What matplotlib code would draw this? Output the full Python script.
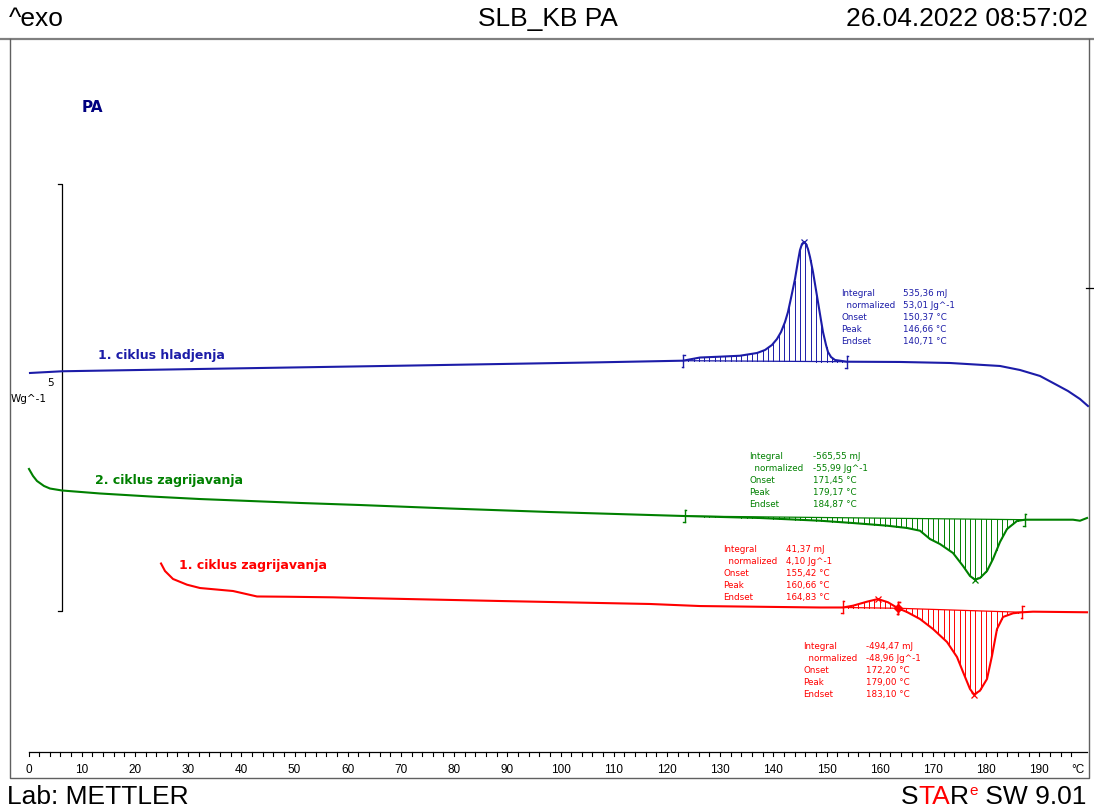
import numpy as np
import matplotlib
matplotlib.use("Agg")
import matplotlib.pyplot as plt
import matplotlib.transforms as mtrans

W, H = 1094, 812

# ---------------- data (temperature in °C, signal in W/g, shifted curves) ----------------
blue_T = [0.28, 6.30, 32.24, 69.83, 107.42, 123.03, 126.22, 129.98, 133.74, 136.94, 138.44,
          139.75, 140.69, 141.45, 142.20, 142.76, 143.33, 144.08, 144.64, 145.02, 145.39,
          145.77, 146.15, 146.52, 146.90, 147.46, 147.84, 148.40, 148.96, 149.34, 149.91,
          150.28, 150.85, 151.60, 153.85, 163.82, 173.21, 182.61, 186.37, 190.13, 192.95,
          195.39, 197.65, 199.15]
blue_Y = [5.129, 5.149, 5.176, 5.214, 5.254, 5.273, 5.310, 5.320, 5.331, 5.363, 5.398,
          5.457, 5.527, 5.609, 5.726, 5.843, 6.007, 6.230, 6.440, 6.569, 6.639,
          6.663, 6.639, 6.581, 6.487, 6.312, 6.171, 5.960, 5.749, 5.609, 5.457,
          5.375, 5.316, 5.281, 5.261, 5.258, 5.246, 5.211, 5.164, 5.094, 5.000,
          4.918, 4.824, 4.742]

green_T = [0.09, 0.85, 1.60, 2.91, 4.04, 6.30, 13.44, 22.84, 32.24, 41.64, 51.03, 62.31,
           79.23, 98.03, 116.82, 123.40, 137.50, 148.78, 154.98, 161.37, 165.13, 167.58,
           169.45, 171.33, 173.78, 175.66, 176.97, 177.91, 178.85, 180.17, 181.30, 182.61,
           183.93, 185.81, 187.31, 196.33, 197.65, 198.97]
green_Y = [4.005, 3.923, 3.864, 3.806, 3.776, 3.753, 3.718, 3.683, 3.653, 3.630, 3.607, 3.583,
           3.542, 3.501, 3.466, 3.454, 3.431, 3.399, 3.372, 3.341, 3.314, 3.282,
           3.185, 3.126, 3.021, 2.869, 2.752, 2.709, 2.728, 2.810, 2.951, 3.150,
           3.302, 3.396, 3.411, 3.411, 3.399, 3.431]

red_T = [24.91, 25.66, 27.16, 29.79, 32.24, 38.44, 42.95, 48.59, 57.24, 62.31, 88.63, 116.82,
         126.22, 148.78, 153.10, 154.98, 157.61, 159.68, 161.56, 163.44, 165.13, 167.58,
         170.02, 172.65, 174.53, 175.66, 176.97, 177.73, 178.85, 180.17, 181.11, 182.05,
         183.18, 185.06, 186.75, 188.82, 198.97]
red_Y = [2.898, 2.810, 2.717, 2.650, 2.611, 2.576, 2.512, 2.509, 2.502, 2.494, 2.459, 2.424,
         2.400, 2.383, 2.383, 2.404, 2.451, 2.482, 2.444, 2.374, 2.330, 2.248,
         2.131, 1.979, 1.803, 1.628, 1.429, 1.364, 1.409, 1.546, 1.818, 2.131,
         2.272, 2.315, 2.327, 2.334, 2.327]

# integration limits (°C) and peak temperatures (plot positions)
blue_limits = [123.03, 153.85]
blue_peak = 145.77
green_limits = [123.40, 187.31]
green_peak = 177.91
red_limits1 = [153.10, 163.44]
red_peak1 = 159.68
red_limits2 = [163.44, 186.75]
red_peak2 = 177.73

x_ticks = list(range(0, 197, 2))
x_labels = list(range(0, 191, 10))

blue_res = [("Integral", "535,36 mJ"), ("  normalized", "53,01 Jg^-1"), ("Onset", "150,37 °C"),
            ("Peak", "146,66 °C"), ("Endset", "140,71 °C")]
green_res = [("Integral", "-565,55 mJ"), ("  normalized", "-55,99 Jg^-1"), ("Onset", "171,45 °C"),
             ("Peak", "179,17 °C"), ("Endset", "184,87 °C")]
red_res1 = [("Integral", "41,37 mJ"), ("  normalized", "4,10 Jg^-1"), ("Onset", "155,42 °C"),
            ("Peak", "160,66 °C"), ("Endset", "164,83 °C")]
red_res2 = [("Integral", "-494,47 mJ"), ("  normalized", "-48,96 Jg^-1"), ("Onset", "172,20 °C"),
            ("Peak", "179,00 °C"), ("Endset", "183,10 °C")]

BLUE = "#1c1ca8"
GREEN = "#008000"
RED = "#ff0000"

# ---------------- figure ----------------
fig = plt.figure(figsize=(W / 100, H / 100), dpi=100)
ov = fig.add_axes([0, 0, 1, 1])
ov.set_xlim(0, W)
ov.set_ylim(H, 0)
ov.axis("off")

ax = fig.add_axes([0, 0, 1, 1])
ax.patch.set_alpha(0)
PX_PER_C = 5.32
X0 = 28.5
PX_PER_Y = 85.4
ax.set_xlim(-X0 / PX_PER_C, (W - X0) / PX_PER_C)
ax.set_ylim(0, H / PX_PER_Y)
ax.axis("off")

# frame
ov.plot([0, W], [40, 40], color="#808080", lw=1.6)
ov.plot([10, 10, 1089, 1089], [40, 779, 779, 40], color="#606060", lw=1.0)
ov.plot([1086, 1093], [289, 289], color="black", lw=0.9)

HS = 19
hdr = dict(family="Liberation Sans", fontsize=HS, va="center")
ov.text(9, 19, "^exo", ha="left", **hdr)
ov.text(548, 19, "SLB_KB PA", ha="center", **hdr)
ov.text(1088, 19, "26.04.2022 08:57:02", ha="right", **hdr)
ov.text(7, 797, "Lab: METTLER", ha="left", **hdr)
# STARe SW 9.01
t_sw = ov.text(1086, 797, " SW 9.01", ha="right", **hdr)
fig.canvas.draw()
r = fig.canvas.get_renderer()
xr = t_sw.get_window_extent(r).x0
blend = mtrans.blended_transform_factory(mtrans.IdentityTransform(), ov.transData)

def add_left(s, color, size=HS, dy=0):
    global xr
    t = ov.text(xr, 797 + dy, s, ha="right", va="center", family="Liberation Sans",
                fontsize=size, color=color, transform=blend)
    xr = t.get_window_extent(r).x0

add_left("e", RED, size=11, dy=-6)
add_left("R", "black")
add_left("TA", RED)
add_left("S", "black")

ov.text(82, 108, "PA", color="#000080", fontsize=11, fontweight="bold", va="center", ha="left",
        family="DejaVu Sans")

# y scale bar
ov.plot([58, 62, 62, 58], [185, 185, 612, 612], color="black", lw=0.9)
ov.text(47, 383, "5", fontsize=7.5, va="center", ha="left", family="DejaVu Sans")
ov.text(11, 399, "Wg^-1", fontsize=7.5, va="center", ha="left", family="DejaVu Sans")

# x axis
y_ax = (H - 753) / PX_PER_Y
tick_len = 4 / PX_PER_Y
ax.plot([0, (1087 - X0) / PX_PER_C], [y_ax, y_ax], color="black", lw=0.9)
for t in x_ticks:
    ax.plot([t, t], [y_ax, y_ax - tick_len], color="black", lw=0.8)
for t in x_labels:
    ax.text(t, (H - 770) / PX_PER_Y, str(t), ha="center", va="center", fontsize=8.5,
            family="Liberation Sans")
ov.text(1078, 770, "°C", ha="center", va="center", fontsize=8.5, family="Liberation Sans")

# curves
def integrate(T, Y, lims, color, peak=None, marks=True):
    T = np.asarray(T); Y = np.asarray(Y)
    a, b = lims
    ya, yb = np.interp(a, T, Y), np.interp(b, T, Y)
    xs = np.arange(np.ceil(a), b, 1.0)
    base = ya + (yb - ya) * (xs - a) / (b - a)
    cur = np.interp(xs, T, Y)
    for x0, b0, c0 in zip(xs, base, cur):
        ax.plot([x0, x0], [b0, c0], color=color, lw=0.7)
    ax.plot([a, b], [ya, yb], color=color, lw=0.9)
    if marks:
        h = 6 / PX_PER_Y
        s = 1.5 / PX_PER_C
        for xm, ym in ((a, ya), (b, yb)):
            ax.plot([xm, xm], [ym - h, ym + h], color=color, lw=1.0)
            ax.plot([xm, xm + s], [ym + h, ym + h], color=color, lw=1.0)
            ax.plot([xm, xm - s], [ym - h, ym - h], color=color, lw=1.0)
    if peak is not None:
        ax.plot([peak], [np.interp(peak, T, Y)], marker="x", ms=5, mew=0.9, color=color)

ax.plot(blue_T, blue_Y, color=BLUE, lw=1.5)
integrate(blue_T, blue_Y, blue_limits, BLUE, blue_peak)
ax.plot(green_T, green_Y, color=GREEN, lw=1.5)
integrate(green_T, green_Y, green_limits, GREEN, green_peak)
ax.plot(red_T, red_Y, color=RED, lw=1.5)
integrate(red_T, red_Y, red_limits1, RED, red_peak1)
integrate(red_T, red_Y, red_limits2, RED, red_peak2)
ax.plot([red_limits1[1]], [np.interp(red_limits1[1], red_T, red_Y)], marker="D", ms=4, color=RED)

# curve labels
lab = dict(fontsize=9, fontweight="bold", va="center", ha="left", family="DejaVu Sans")
ov.text(98, 356, "1. ciklus hladjenja", color=BLUE, **lab)
ov.text(95, 481, "2. ciklus zagrijavanja", color=GREEN, **lab)
ov.text(179, 566, "1. ciklus zagrijavanja", color=RED, **lab)

# result blocks
def block(x_lab, x_val, y0, rows, color):
    for i, (l, v) in enumerate(rows):
        y = y0 + i * 11.8
        ov.text(x_lab, y, l, color=color, fontsize=6.3, va="center", ha="left", family="DejaVu Sans")
        ov.text(x_val, y, v, color=color, fontsize=6.3, va="center", ha="left", family="DejaVu Sans")

block(841, 903, 294, blue_res, BLUE)
block(749, 813, 457, green_res, GREEN)
block(723, 786, 550, red_res1, RED)
block(803, 866, 647, red_res2, RED)

fig.savefig("out.png", dpi=100)
